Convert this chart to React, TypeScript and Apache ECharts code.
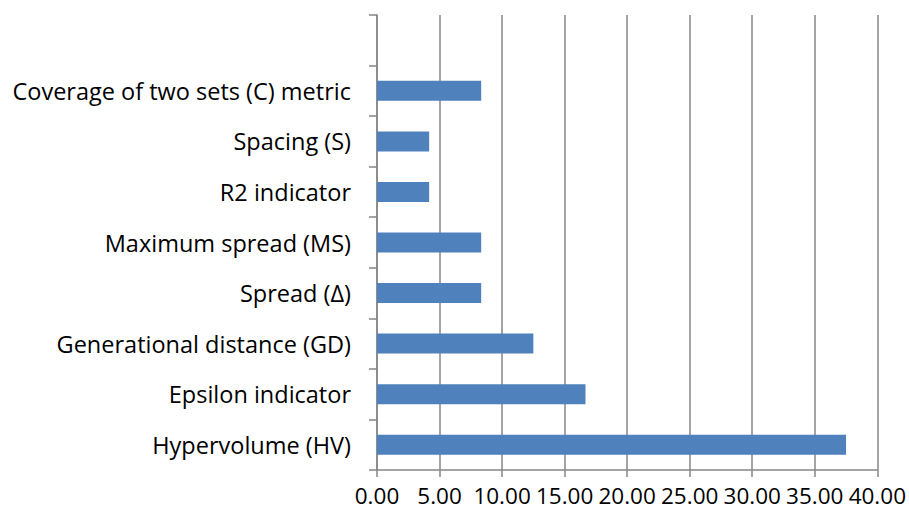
import React, { useEffect, useRef } from "react";
import * as echarts from "echarts";

const categories = [
  "Hypervolume (HV)",
  "Epsilon indicator",
  "Generational distance (GD)",
  "Spread (Δ)",
  "Maximum spread (MS)",
  "R2 indicator",
  "Spacing (S)",
  "Coverage of two sets (C) metric",
  "",
];
const values: (number | null)[] = [37.5, 16.67, 12.5, 8.33, 8.33, 4.17, 4.17, 8.33, null];

export default function App() {
  const ref = useRef<HTMLDivElement>(null);
  useEffect(() => {
    const chart = echarts.init(ref.current!, null, { renderer: "svg" });
    chart.setOption({
      animation: false,
      grid: { left: 377, right: 29, top: 15, bottom: 43, containLabel: false },
      xAxis: {
        type: "value",
        min: 0,
        max: 40,
        interval: 5,
        axisLine: { show: true, lineStyle: { color: "#868686", width: 1.5 } },
        axisTick: { show: true, length: 7, lineStyle: { color: "#868686", width: 1.5 } },
        splitLine: { show: true, lineStyle: { color: "#868686", width: 1.5 } },
        axisLabel: {
          formatter: (v: number) => v.toFixed(2),
          fontFamily: "Open Sans",
          fontSize: 22.5,
          color: "#000",
          margin: 14,
        },
      },
      yAxis: {
        type: "category",
        data: categories,
        boundaryGap: true,
        axisLine: { show: true, lineStyle: { color: "#868686", width: 1.5 } },
        axisTick: { show: true, length: 8, inside: false, lineStyle: { color: "#868686", width: 1.5 } },
        splitLine: { show: false },
        axisLabel: {
          fontFamily: "Open Sans",
          fontSize: 23.5,
          color: "#000",
          margin: 26,
        },
      },
      series: [
        {
          type: "bar",
          data: values,
          barWidth: 20,
          itemStyle: { color: "#4F81BD" },
        },
      ],
    });
    return () => chart.dispose();
  }, []);
  return <div ref={ref} style={{ width: 909, height: 513, position: "absolute", left: 0, top: 0 }} />;
}
